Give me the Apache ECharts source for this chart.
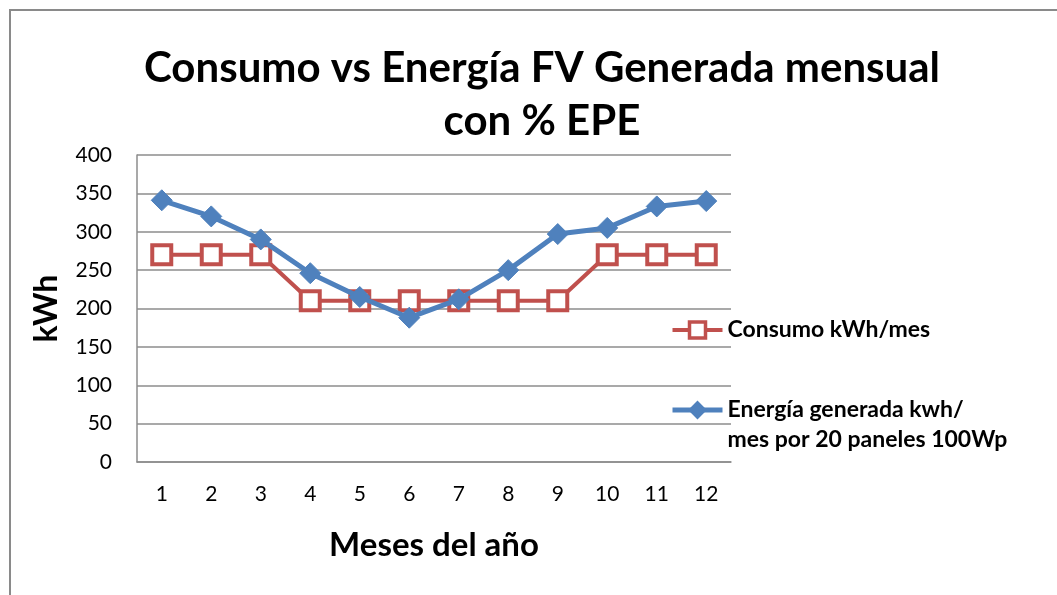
<!DOCTYPE html>
<html>
<head>
<meta charset="utf-8">
<script src="https://cdn.jsdelivr.net/npm/echarts@6/dist/echarts.min.js"></script>
<style>
  html, body { margin: 0; padding: 0; background: #fff; }
  #chart { width: 1057px; height: 595px; }
</style>
</head>
<body>
<div id="chart"></div>
<script>
// Months of the year
const months = ['1', '2', '3', '4', '5', '6', '7', '8', '9', '10', '11', '12'];
// Monthly consumption (kWh/mes)
const consumo = [270, 270, 270, 210, 210, 210, 210, 210, 210, 270, 270, 270];
// PV energy generated by 20 panels of 100 Wp (kWh/mes)
const generada = [341, 320, 290, 246, 215, 188, 212, 250, 297, 305, 333, 340];
// Y axis range and step
const yMin = 0, yMax = 400, yStep = 50;

const seriesNames = ['Consumo kWh/mes', 'Energía generada kwh/\nmes por 20 paneles 100Wp'];
const FONT = 'Lato, "Open Sans", sans-serif';
const RED = '#C0504D';
const BLUE = '#4F81BD';
const GRID_GRAY = '#8c8c8c';

const chart = echarts.init(document.getElementById('chart'), null, { renderer: 'canvas' });

chart.setOption({
  backgroundColor: '#ffffff',
  animation: false,
  title: {
    text: 'Consumo vs Energía FV Generada mensual\ncon % EPE',
    left: 537,
    top: 37,
    textAlign: 'center',
    textStyle: {
      fontFamily: FONT,
      fontSize: 42,
      fontWeight: 'bold',
      color: '#000',
      lineHeight: 53
    }
  },
  graphic: [{
    type: 'rect',
    silent: true,
    shape: { x: 10, y: 10, width: 1200, height: 800 },
    style: { fill: 'none', stroke: '#8a8a8a', lineWidth: 2 }
  }],
  legend: {
    orient: 'vertical',
    left: 670,
    top: 315,
    padding: 0,
    itemGap: 20,
    itemWidth: 50,
    itemHeight: 20,
    // the two-line entry gets a blank line on top so its first line sits beside the icon
    formatter: function (name) {
      return name.indexOf('\n') >= 0 ? '\n' + name : name;
    },
    data: [
      { name: seriesNames[0], lineStyle: { width: 4 }, itemStyle: { borderWidth: 3.5 } },
      { name: seriesNames[1], lineStyle: { width: 5 } }
    ],
    textStyle: {
      fontFamily: FONT,
      fontSize: 23,
      fontWeight: 'bold',
      color: '#000',
      lineHeight: 30
    }
  },
  grid: {
    left: 137,
    right: 326,
    top: 155,
    bottom: 133,
    containLabel: false
  },
  xAxis: {
    type: 'category',
    data: months,
    boundaryGap: true,
    name: 'Meses del año',
    nameLocation: 'middle',
    nameGap: 67,
    nameTextStyle: { fontFamily: FONT, fontSize: 33, fontWeight: 'bold', color: '#000' },
    axisLine: { show: true, lineStyle: { color: GRID_GRAY, width: 1.5 } },
    axisTick: { show: false },
    axisLabel: { margin: 22, fontFamily: FONT, fontSize: 21, color: '#000' },
    splitLine: { show: false }
  },
  yAxis: {
    type: 'value',
    min: yMin,
    max: yMax,
    interval: yStep,
    name: 'kWh',
    nameLocation: 'middle',
    nameGap: 74,
    nameRotate: 90,
    nameTextStyle: { fontFamily: FONT, fontSize: 32, fontWeight: 'bold', color: '#000' },
    axisLine: { show: true, lineStyle: { color: GRID_GRAY, width: 1.5 } },
    axisTick: { show: false },
    axisLabel: { margin: 25, fontFamily: FONT, fontSize: 21, color: '#000' },
    splitLine: { show: true, lineStyle: { color: GRID_GRAY, width: 1.5 } }
  },
  series: [
    {
      name: seriesNames[0],
      type: 'line',
      data: consumo,
      symbol: 'rect',
      symbolSize: 19,
      lineStyle: { color: RED, width: 4 },
      itemStyle: { color: '#ffffff', borderColor: RED, borderWidth: 4 },
      z: 2
    },
    {
      name: seriesNames[1],
      type: 'line',
      data: generada,
      symbol: 'diamond',
      symbolSize: 21,
      lineStyle: { color: BLUE, width: 5 },
      itemStyle: { color: BLUE, borderColor: BLUE, borderWidth: 1 },
      z: 3
    }
  ]
});
</script>
</body>
</html>
